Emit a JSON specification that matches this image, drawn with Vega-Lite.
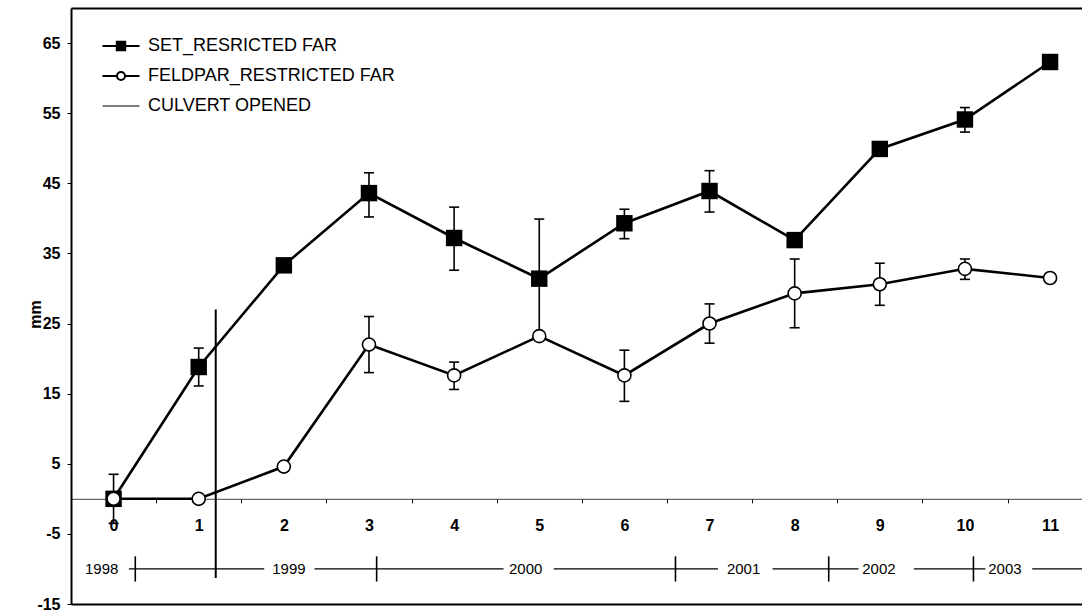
{
  "$schema": "https://vega.github.io/schema/vega-lite/v6.json",
  "autosize": {"type": "none"},
  "padding": {"left": 71, "top": 8, "right": 0, "bottom": 10},
  "width": 1011,
  "height": 596,
  "background": "white",
  "view": {"stroke": null},
  "config": {"font": "Liberation Sans"},
  "datasets": {
    "pts": [
      {"week": 0, "series": "SET_RESRICTED FAR", "mm": 0, "lo": -3.5, "hi": 3.5},
      {"week": 1, "series": "SET_RESRICTED FAR", "mm": 18.8, "lo": 16.1, "hi": 21.5},
      {"week": 2, "series": "SET_RESRICTED FAR", "mm": 33.3, "lo": null, "hi": null},
      {"week": 3, "series": "SET_RESRICTED FAR", "mm": 43.6, "lo": 40.2, "hi": 46.5},
      {"week": 4, "series": "SET_RESRICTED FAR", "mm": 37.2, "lo": 32.6, "hi": 41.6},
      {"week": 5, "series": "SET_RESRICTED FAR", "mm": 31.4, "lo": 22.9, "hi": 39.9},
      {"week": 6, "series": "SET_RESRICTED FAR", "mm": 39.3, "lo": 37.1, "hi": 41.3},
      {"week": 7, "series": "SET_RESRICTED FAR", "mm": 43.9, "lo": 40.9, "hi": 46.8},
      {"week": 8, "series": "SET_RESRICTED FAR", "mm": 36.9, "lo": null, "hi": null},
      {"week": 9, "series": "SET_RESRICTED FAR", "mm": 49.9, "lo": null, "hi": null},
      {"week": 10, "series": "SET_RESRICTED FAR", "mm": 54.1, "lo": 52.3, "hi": 55.8},
      {"week": 11, "series": "SET_RESRICTED FAR", "mm": 62.3, "lo": null, "hi": null},
      {"week": 0, "series": "FELDPAR_RESTRICTED FAR", "mm": 0, "lo": null, "hi": null},
      {"week": 1, "series": "FELDPAR_RESTRICTED FAR", "mm": 0, "lo": null, "hi": null},
      {"week": 2, "series": "FELDPAR_RESTRICTED FAR", "mm": 4.6, "lo": null, "hi": null},
      {"week": 3, "series": "FELDPAR_RESTRICTED FAR", "mm": 22.0, "lo": 18.0, "hi": 26.0},
      {"week": 4, "series": "FELDPAR_RESTRICTED FAR", "mm": 17.6, "lo": 15.6, "hi": 19.5},
      {"week": 5, "series": "FELDPAR_RESTRICTED FAR", "mm": 23.2, "lo": null, "hi": null},
      {"week": 6, "series": "FELDPAR_RESTRICTED FAR", "mm": 17.6, "lo": 13.9, "hi": 21.2},
      {"week": 7, "series": "FELDPAR_RESTRICTED FAR", "mm": 25.0, "lo": 22.2, "hi": 27.8},
      {"week": 8, "series": "FELDPAR_RESTRICTED FAR", "mm": 29.3, "lo": 24.4, "hi": 34.2},
      {"week": 9, "series": "FELDPAR_RESTRICTED FAR", "mm": 30.6, "lo": 27.6, "hi": 33.6},
      {"week": 10, "series": "FELDPAR_RESTRICTED FAR", "mm": 32.8, "lo": 31.3, "hi": 34.2},
      {"week": 11, "series": "FELDPAR_RESTRICTED FAR", "mm": 31.5, "lo": null, "hi": null}
    ],
    "culvert": [
      {"series": "CULVERT OPENED", "week": 1.2, "lo": -11.3, "hi": 27}
    ],
    "segments": [
      {"from": 0.18, "to": 1.77},
      {"from": 2.36, "to": 4.58},
      {"from": 5.17, "to": 7.1},
      {"from": 7.74, "to": 8.75},
      {"from": 9.4, "to": 10.24},
      {"from": 10.79, "to": 11.375}
    ],
    "yearticks": [
      {"at": 0.255}, {"at": 3.09}, {"at": 6.6}, {"at": 8.4}, {"at": 10.1}
    ],
    "years": [
      {"year": "1998", "at": -0.14},
      {"year": "1999", "at": 2.06},
      {"year": "2000", "at": 4.84},
      {"year": "2001", "at": 7.4},
      {"year": "2002", "at": 8.99},
      {"year": "2003", "at": 10.47}
    ]
  },
  "resolve": {"axis": {"x": "independent", "y": "independent"}},
  "layer": [
    {
      "data": {"name": "segments"},
      "mark": {"type": "rule", "color": "black", "strokeWidth": 1.3},
      "encoding": {
        "x": {"field": "from", "type": "quantitative", "scale": {"domain": [-0.5, 11.375], "nice": false, "zero": false},
              "axis": {"orient": "bottom", "domain": true, "domainColor": "black", "domainWidth": 2, "ticks": false, "labels": false, "grid": false, "title": null}},
        "x2": {"field": "to"},
        "y": {"datum": -10, "type": "quantitative", "scale": {"domain": [-15, 70], "nice": false, "zero": false}, "axis": null}
      }
    },
    {
      "data": {"name": "yearticks"},
      "mark": {"type": "rule", "color": "black", "strokeWidth": 1.6},
      "encoding": {
        "x": {"field": "at", "type": "quantitative", "scale": {"domain": [-0.5, 11.375], "nice": false, "zero": false},
              "axis": {"orient": "top", "domain": true, "domainColor": "black", "domainWidth": 2, "ticks": false, "labels": false, "grid": false, "title": null}},
        "y": {"datum": -8.2, "type": "quantitative", "scale": {"domain": [-15, 70], "nice": false, "zero": false}, "axis": null},
        "y2": {"datum": -11.8}
      }
    },
    {
      "data": {"name": "years"},
      "mark": {"type": "text", "font": "Liberation Sans", "fontSize": 15, "color": "black", "align": "center", "baseline": "middle"},
      "encoding": {
        "x": {"field": "at", "type": "quantitative", "scale": {"domain": [-0.5, 11.375], "nice": false, "zero": false}, "axis": null},
        "y": {"datum": -10, "type": "quantitative", "scale": {"domain": [-15, 70], "nice": false, "zero": false}, "axis": null},
        "text": {"field": "year"}
      }
    },
    {
      "data": {"name": "culvert"},
      "mark": {"type": "rule", "color": "black", "strokeWidth": 2},
      "encoding": {
        "x": {"field": "week", "type": "quantitative", "scale": {"domain": [-0.5, 11.375], "nice": false, "zero": false}, "axis": null},
        "y": {"field": "lo", "type": "quantitative", "scale": {"domain": [-15, 70], "nice": false, "zero": false}, "axis": null},
        "y2": {"field": "hi"}
      }
    },
    {
      "data": {"name": "pts"},
      "transform": [{"filter": "datum.lo != null"}],
      "mark": {"type": "rule", "color": "black", "strokeWidth": 1.6},
      "encoding": {
        "x": {"field": "week", "type": "quantitative", "scale": {"domain": [-0.5, 11.375], "nice": false, "zero": false}, "axis": null},
        "y": {"field": "lo", "type": "quantitative", "scale": {"domain": [-15, 70], "nice": false, "zero": false}, "axis": null},
        "y2": {"field": "hi"}
      }
    },
    {
      "data": {"name": "pts"},
      "transform": [{"filter": "datum.lo != null"}],
      "mark": {"type": "tick", "orient": "horizontal", "color": "black", "size": 10, "thickness": 1.6, "opacity": 1},
      "encoding": {
        "x": {"field": "week", "type": "quantitative", "scale": {"domain": [-0.5, 11.375], "nice": false, "zero": false}, "axis": null},
        "y": {"field": "lo", "type": "quantitative", "scale": {"domain": [-15, 70], "nice": false, "zero": false}, "axis": null}
      }
    },
    {
      "data": {"name": "pts"},
      "transform": [{"filter": "datum.hi != null"}],
      "mark": {"type": "tick", "orient": "horizontal", "color": "black", "size": 10, "thickness": 1.6, "opacity": 1},
      "encoding": {
        "x": {"field": "week", "type": "quantitative", "scale": {"domain": [-0.5, 11.375], "nice": false, "zero": false}, "axis": null},
        "y": {"field": "hi", "type": "quantitative", "scale": {"domain": [-15, 70], "nice": false, "zero": false}, "axis": null}
      }
    },
    {
      "data": {"name": "pts"},
      "mark": {"type": "line", "strokeWidth": 2.6},
      "encoding": {
        "x": {"field": "week", "type": "quantitative", "scale": {"domain": [-0.5, 11.375], "nice": false, "zero": false},
              "axis": {"orient": "bottom", "offset": -105.2, "values": [0,1,2,3,4,5,6,7,8,9,10,11],
                       "domain": true, "domainColor": "#444444", "domainWidth": 1,
                       "ticks": true, "tickSize": 4, "tickColor": "black", "tickWidth": 1,
                       "tickOffset": 42.57, "labelOffset": -42.57,
                       "labelFont": "Liberation Sans", "labelFontSize": 16, "labelFontWeight": "bold", "labelColor": "black",
                       "labelPadding": 15, "labelFlush": false, "labelOverlap": false, "grid": false, "title": null}},
        "y": {"field": "mm", "type": "quantitative", "scale": {"domain": [-15, 70], "nice": false, "zero": false},
              "axis": {"orient": "left", "values": [-15, -5, 5, 15, 25, 35, 45, 55, 65], "domain": true, "domainColor": "black", "domainWidth": 2,
                       "labelExpr": "datum.value < 0 ? '-' + abs(datum.value) : '' + datum.value",
                       "ticks": true, "tickColor": "black", "tickSize": 4, "tickWidth": 1,
                       "labelFont": "Liberation Sans", "labelFontSize": 16, "labelFontWeight": "bold", "labelColor": "black",
                       "labelPadding": 7, "labelFlush": false, "labelOverlap": false, "grid": false,
                       "title": "mm", "titleFont": "Liberation Sans", "titleFontSize": 16, "titleFontWeight": "bold", "titleColor": "black",
                       "titleAngle": -90, "titleX": -31, "titleY": 306, "titleAlign": "center", "titleBaseline": "alphabetic"}},
        "color": {"field": "series", "type": "nominal",
                  "scale": {"domain": ["SET_RESRICTED FAR", "FELDPAR_RESTRICTED FAR", "CULVERT OPENED"], "range": ["black", "black", "black"]},
                  "legend": {"orient": "none", "legendX": 41, "legendY": 29, "title": null, "padding": 0,
                             "symbolSize": 400, "labelFont": "Liberation Sans", "labelFontSize": 18, "labelColor": "black",
                             "labelOffset": 18, "rowPadding": 12, "labelLimit": 0,
                             "encode": {"symbols": {"update": {
                               "shape": {"signal": "datum.value === 'SET_RESRICTED FAR' ? 'M-1.85,0H1.85M-0.42,-0.42H0.42V0.42H-0.42Z' : datum.value === 'FELDPAR_RESTRICTED FAR' ? 'M-1.85,0H-0.4M0.4,0H1.85M0.4,0A0.4,0.4,0,1,1,-0.4,0A0.4,0.4,0,1,1,0.4,0Z' : 'M-1.85,0H1.85'"},
                               "fill": {"signal": "datum.value === 'SET_RESRICTED FAR' ? 'black' : datum.value === 'FELDPAR_RESTRICTED FAR' ? 'white' : 'transparent'"},
                               "stroke": {"value": "black"},
                               "strokeWidth": {"signal": "datum.value === 'CULVERT OPENED' ? 1.2 : 2"},
                               "opacity": {"value": 1},
                               "fillOpacity": {"value": 1},
                               "strokeOpacity": {"value": 1}
                             }}}}}
      }
    },
    {
      "data": {"name": "pts"},
      "transform": [{"filter": "datum.series === 'SET_RESRICTED FAR'"}],
      "mark": {"type": "point", "shape": "square", "filled": true, "color": "black", "size": 270, "opacity": 1},
      "encoding": {
        "x": {"field": "week", "type": "quantitative", "scale": {"domain": [-0.5, 11.375], "nice": false, "zero": false}, "axis": null},
        "y": {"field": "mm", "type": "quantitative", "scale": {"domain": [-15, 70], "nice": false, "zero": false}, "axis": null}
      }
    },
    {
      "data": {"name": "pts"},
      "transform": [{"filter": "datum.series === 'FELDPAR_RESTRICTED FAR'"}],
      "mark": {"type": "point", "shape": "circle", "filled": true, "fill": "white", "stroke": "black", "strokeWidth": 1.6, "size": 170, "opacity": 1},
      "encoding": {
        "x": {"field": "week", "type": "quantitative", "scale": {"domain": [-0.5, 11.375], "nice": false, "zero": false}, "axis": null},
        "y": {"field": "mm", "type": "quantitative", "scale": {"domain": [-15, 70], "nice": false, "zero": false}, "axis": null}
      }
    }
  ]
}
